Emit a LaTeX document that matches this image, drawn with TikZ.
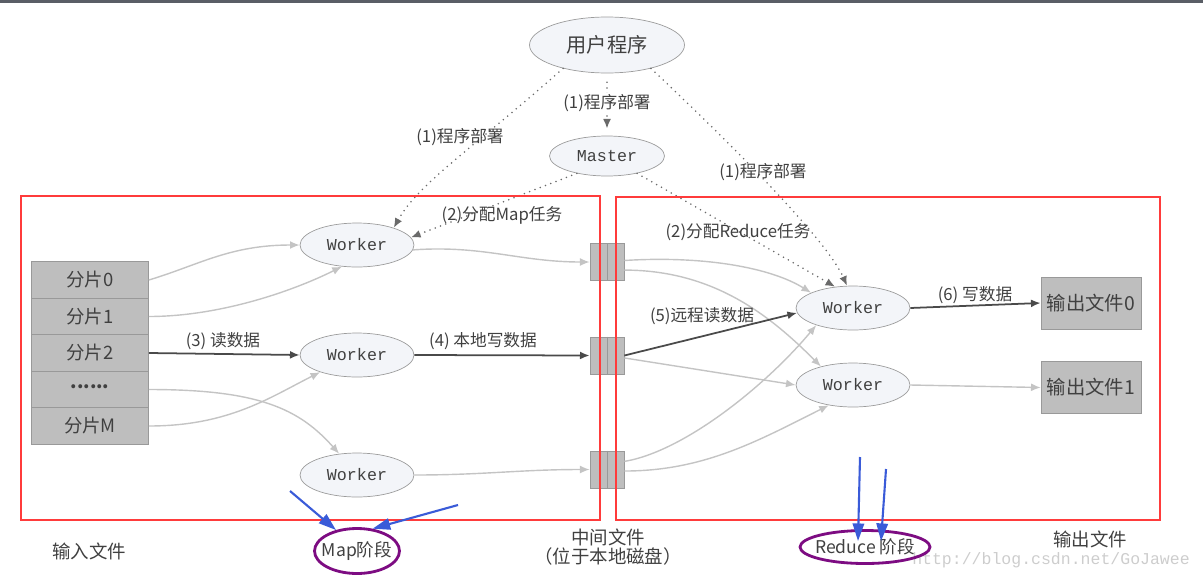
\documentclass[tikz,border=0pt]{standalone}
\usepackage{fontspec}
\setmainfont{Noto Sans CJK SC}
\setmonofont{Liberation Mono}
\definecolor{InkGray}{HTML}{404040}
\definecolor{EdgeGray}{HTML}{9C9C9C}
\definecolor{OvalFill}{HTML}{F3F5F9}
\definecolor{BoxFill}{HTML}{BEBEBE}
\definecolor{BoxEdge}{HTML}{999999}
\definecolor{LineGray}{HTML}{C4C4C4}
\definecolor{DarkLine}{HTML}{4A4A4A}
\definecolor{DotGray}{HTML}{6A6A6A}
\definecolor{StagePurple}{HTML}{7D0C82}
\definecolor{HintBlue}{HTML}{3A5BD8}
\definecolor{PhaseRed}{HTML}{FF3B3B}
\definecolor{MarkGray}{HTML}{CDCDCD}
\definecolor{TopBar}{HTML}{5A5E66}
\usetikzlibrary{
  arrows.meta,
  shapes.geometric
}

\begin{document}
\begin{tikzpicture}[
  x=0.02cm, y=-0.02cm,
  worker/.style={
    ellipse, draw=EdgeGray, fill=OvalFill,
    minimum width=2.28cm, minimum height=0.88cm,
    inner sep=0pt, text=InkGray,
    font=\ttfamily\fontsize{9.5}{11}\selectfont
  },
  split/.style={
    rectangle, draw=BoxEdge, fill=BoxFill,
    minimum width=2.34cm, minimum height=0.73cm,
    inner sep=0pt, text=InkGray,
    font=\fontsize{10.5}{12}\selectfont
  },
  midfile/.style={
    rectangle, draw=BoxEdge, fill=BoxFill,
    minimum width=0.68cm, minimum height=0.74cm,
    inner sep=0pt
  },
  outfile/.style={
    rectangle, draw=BoxEdge, fill=BoxFill,
    minimum width=2cm, minimum height=1.04cm,
    inner sep=0pt, text=InkGray,
    font=\fontsize{11}{13}\selectfont
  },
  note/.style={
    font=\fontsize{9.5}{11}\selectfont, text=InkGray
  },
  caption/.style={
    font=\fontsize{10.5}{11}\selectfont, text=InkGray,
    align=center
  },
  flow/.style={
    draw=LineGray, line width=0.8pt,
    -{Latex[length=5.5pt,width=4.5pt]}
  },
  mainflow/.style={flow, draw=DarkLine, line width=1pt},
  deploy/.style={
    draw=DotGray, line width=1pt, line cap=round,
    dash pattern=on 0pt off 3.2pt,
    -{Latex[length=5.5pt,width=4.5pt]}
  },
  stage/.style={
    ellipse, draw=StagePurple, line width=1.6pt,
    inner sep=0pt, inner xsep=-3pt, text=InkGray,
    font=\fontsize{10}{12}\selectfont
  },
  hint/.style={
    draw=HintBlue, line width=1.2pt,
    -{Triangle[length=10pt,width=6.5pt]}
  }
]
  \useasboundingbox (0,0) rectangle (1203,575);
  \fill[TopBar] (0,0) rectangle (1203,2.5);

  % User program and master
  \node[worker, minimum width=3.1cm, minimum height=1.12cm,
    font=\fontsize{11.5}{13}\selectfont] (user)
    at (607,45) {用户程序};
  \node[worker, minimum width=2.3cm, minimum height=0.8cm] (master)
    at (607,156) {Master};

  % Map workers
  \node[worker] (mw1) at (357,245) {Worker};
  \node[worker] (mw2) at (357,355) {Worker};
  \node[worker] (mw3) at (357,475) {Worker};

  % Input splits (top to bottom)
  \node[split] (s0) at (90,280) {分片0};
  \node[split] (s1) at (90,316.5) {分片1};
  \node[split] (s2) at (90,353) {分片2};
  \node[split] (sd) at (90,389.5) {\raisebox{0.3em}{\textbf{......}}};
  \node[split] (sm) at (90,426) {分片M};

  % Intermediate files on local disk
  \foreach \n/\y in {m1/262, m2/355.5, m3/469.5} {
    \node[midfile] (\n) at (607,\y) {};
    \foreach \dx in {-0.14, 0, 0.18}
      \draw[BoxEdge] ([xshift=\dx cm]\n.north) -- ([xshift=\dx cm]\n.south);
  }

  % Reduce workers and output files
  \node[worker] (rw1) at (853,308) {Worker};
  \node[worker] (rw2) at (853,385) {Worker};
  \node[outfile] (o0) at (1091,303) {输出文件0};
  \node[outfile] (o1) at (1091,387.5) {输出文件1};

  % Deployment and task assignment
  \draw[deploy, shorten <=0.18cm, shorten >=0.14cm]
    (user.south) -- (master.north);
  \draw[deploy] (user.208) .. controls +(-90,80) and +(25,-45) .. (mw1.25);
  \draw[deploy] (user.332) .. controls +(90,85) and +(-20,-45) .. (rw1.105);
  \draw[deploy] (master.210) -- (mw1.8);
  \draw[deploy] (master.330) -- (rw1.130);

  % Map phase data flow
  \draw[flow] (s0.east) .. controls +(50,-15) and +(-70,0) .. (mw1.west);
  \draw[flow] (s1.east) .. controls +(70,0) and +(-50,25) .. (mw1.235);
  \draw[mainflow] (s2.east) -- (mw2.west);
  \draw[flow] (sd.east) .. controls +(110,0) and +(-40,-45) .. (mw3.130);
  \draw[flow] (sm.east) .. controls +(80,0) and +(-50,25) .. (mw2.205);
  \draw[flow] (mw1.-5) .. controls +(70,-5) and +(-70,0) .. (m1.west);
  \draw[mainflow] (mw2.east) -- (m2.west);
  \draw[flow] (mw3.east) .. controls +(70,0) and +(-70,0) .. (m3.west);

  % Reduce phase data flow
  \draw[flow] (m1.5) .. controls +(80,-5) and +(-40,-25) .. (rw1.160);
  \draw[flow] (m1.-25) .. controls +(90,0) and +(-50,-50) .. (rw2.150);
  \draw[mainflow] (m2.east) -- (rw1.185);
  \draw[flow] (m2.-8) -- (rw2.west);
  \draw[flow] (m3.25) .. controls +(60,-10) and +(-50,60) .. (rw1.205);
  \draw[flow] (m3.-5) .. controls +(80,0) and +(-70,35) .. (rw2.220);
  \draw[mainflow] (rw1.east) -- (o0.west);
  \draw[flow] (rw2.east) -- (o1.west);

  % Step labels
  \node[note, fill=white, inner sep=1pt] at (607,103) {(1)程序部署};
  \node[note] at (460,137) {(1)程序部署};
  \node[note] at (763,172) {(1)程序部署};
  \node[note] at (502,215) {(2)分配Map任务};
  \node[note] at (738,232) {(2)分配Reduce任务};
  \node[note] at (223,341) {(3)\ 读数据};
  \node[note] at (483,341) {(4)\ 本地写数据};
  \node[note] at (702,316) {(5)远程读数据};
  \node[note] at (975,295) {(6)\ 写数据};

  % Phase frames
  \draw[PhaseRed, line width=0.7pt] (21,196) rectangle (600,520);
  \draw[PhaseRed, line width=0.7pt] (616,197) rectangle (1160,520);

  % Bottom captions
  \node[caption] at (89,551) {输入文件};
  \node[caption] at (608,547) {中间文件\\（位于本地磁盘）};
  \node[caption] at (1090,539) {输出文件};
  \node[font=\ttfamily\fontsize{9.4}{11}\selectfont, text=MarkGray]
    at (1051,560) {http://blog.csdn.net/GoJawee};
  \node[stage, minimum width=1.7cm, minimum height=0.9cm] (mapst)
    at (357,551) {Map阶段};
  \node[stage, minimum width=2.6cm, minimum height=0.66cm] (redst)
    at (865,547) {Reduce\ 阶段};

  % Pointers to the phase names
  \coordinate (h1) at (290,491);
  \coordinate (h2) at (458,505);
  \coordinate (h3) at (860,457);
  \coordinate (h4) at (886,469);
  \draw[hint] (h1) -- (mapst.135);
  \draw[hint] (h2) -- (mapst.55);
  \draw[hint] (h3) -- ([xshift=-0.14cm,yshift=0.12cm]redst.center);
  \draw[hint] (h4) -- ([xshift=0.32cm,yshift=0.12cm]redst.center);
\end{tikzpicture}
\end{document}
